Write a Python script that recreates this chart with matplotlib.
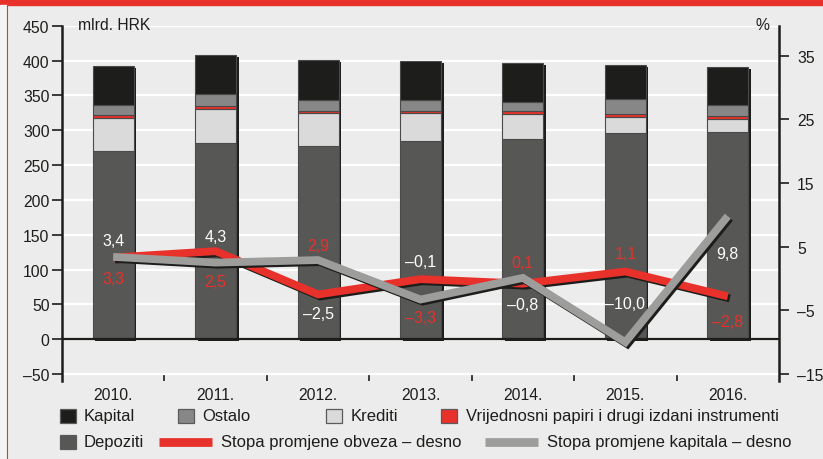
import matplotlib as mpl
mpl.use('agg')
import matplotlib.pyplot as plt
import matplotlib.patheffects as pe
from matplotlib.patches import Rectangle
from matplotlib.lines import Line2D
import numpy as np

# data (mlrd. HRK, stacked)
years = ['2010.', '2011.', '2012.', '2013.', '2014.', '2015.', '2016.']
depoziti = [270, 282, 278, 284, 287, 296, 297]
krediti = [48, 49, 46, 40, 36, 23, 19]
vrij_papiri = [4, 4, 4, 4, 4, 4, 4]
ostalo = [14, 17, 15, 15, 14, 22, 16]
kapital = [56, 56, 58, 56, 56, 49, 55]

# rates of change, % (right axis)
stopa_obveza = [3.3, 4.3, -2.5, -0.1, -0.8, 1.1, -2.8]
stopa_kapitala = [3.4, 2.5, 2.9, -3.3, 0.1, -10.0, 9.8]

# label colours as printed in the original
boja_obveza = ['red', 'white', 'white', 'white', 'white', 'red', 'red']
boja_kapitala = ['white', 'red', 'red', 'red', 'red', 'white', 'white']

RED = '#e8312a'
BG = '#ececec'
C_DEP = '#575756'
C_KRED = '#dadada'
C_OST = '#878787'
C_KAP = '#1d1d1b'
C_GRAY = '#9d9d9c'

FONT = ['Liberation Sans', 'DejaVu Sans']
plt.rcParams['font.family'] = FONT


def fmt(v):
    return f"{v:.1f}".replace('.', ',').replace('-', '\u2013')


W, H = 823, 460
fig = plt.figure(figsize=(W / 100, H / 100), dpi=100, facecolor=BG)

# frame decorations
fig.add_artist(Rectangle((0, 1 - 6 / H), 1, 6 / H, transform=fig.transFigure,
                         color=RED, zorder=0))
fig.add_artist(Rectangle((0, 0), 7 / W, 1 - 6 / H, transform=fig.transFigure,
                         color='#f3f3f3', zorder=0))
fig.add_artist(Line2D([7.5 / W, 7.5 / W], [0, 1 - 6 / H], transform=fig.transFigure,
                      color=RED, lw=0.8))

ax = fig.add_axes([62 / W, 1 - 382 / H, (779 - 62) / W, (382 - 26.7) / H])
ax.set_facecolor(BG)

x = np.arange(len(years))
w = 0.4
dep = np.array(depoziti)
kred = np.array(krediti)
vp = np.array(vrij_papiri)
ost = np.array(ostalo)
kap = np.array(kapital)
total = dep + kred + vp + ost + kap

# bar shadow
ax.bar(x + 0.025, total, bottom=-3, width=w, color=C_KAP, zorder=2)

ec = '#4a4a4a'
lw = 0.8
ax.bar(x, dep, width=w, color=C_DEP, edgecolor=ec, linewidth=lw, zorder=3)
ax.bar(x, kred, bottom=dep, width=w, color=C_KRED, edgecolor=ec, linewidth=lw, zorder=3)
ax.bar(x, vp, bottom=dep + kred, width=w, color=RED, edgecolor=ec, linewidth=lw, zorder=3)
ax.bar(x, ost, bottom=dep + kred + vp, width=w, color=C_OST, edgecolor=ec, linewidth=lw, zorder=3)
ax.bar(x, kap, bottom=dep + kred + vp + ost, width=w, color=C_KAP, edgecolor=ec, linewidth=lw, zorder=3)

ax.axhline(0, color='#1d1d1b', lw=1.6, zorder=4)

ax.set_xlim(-0.5, len(years) - 0.5)
ax.set_ylim(-60, 450)
lt = np.arange(-50, 451, 50)
ax.set_yticks(lt)
ax.set_yticklabels([str(v).replace('-', '\u2013') for v in lt])
ax.yaxis.grid(True, color='white', lw=1.6)
ax.set_axisbelow(True)
ax.set_xticks(x)
ax.set_xticklabels(years)
ax.set_xticks(np.arange(0.5, len(years) - 1, 1), minor=True)
ax.tick_params(axis='x', which='major', length=0, pad=4, labelsize=11.3, colors='#1d1d1b')
ax.tick_params(axis='x', which='minor', length=6, width=1.2, direction='in', color='#1d1d1b')
ax.tick_params(axis='y', length=7, width=1.2, labelsize=11.3, pad=2, colors='#1d1d1b')
for s in ['top', 'bottom', 'right']:
    ax.spines[s].set_visible(False)
ax.spines['left'].set_linewidth(1.8)
ax.spines['left'].set_color('#1d1d1b')

ax.text(78 / W, 1 - 26 / H, 'mlrd. HRK', transform=fig.transFigure, fontsize=11.3,
        va='center', ha='left', color='#1d1d1b')

# right axis
ax2 = ax.twinx()
k = 10 / 91.4  # right units per left unit
ax2.set_ylim(-15 - 10 * k, -15 + 500 * k)
rt = [-15, -5, 5, 15, 25, 35]
ax2.set_yticks(rt)
ax2.set_yticklabels([str(v).replace('-', '\u2013') for v in rt])
ax2.tick_params(axis='y', length=7, width=1.2, labelsize=11.3, pad=6, colors='#1d1d1b')
for s in ['top', 'bottom', 'left']:
    ax2.spines[s].set_visible(False)
ax2.spines['right'].set_linewidth(1.8)
ax2.spines['right'].set_color('#1d1d1b')
fig.text(762 / W, 1 - 26 / H, '%', fontsize=11.3, ha='center', va='center', color='#1d1d1b')

shadow = [pe.SimpleLineShadow(offset=(1.5, -1.5), shadow_color='#1d1d1b', alpha=1.0), pe.Normal()]
ax2.plot(x, stopa_obveza, color=RED, lw=5.6, solid_capstyle='butt', solid_joinstyle='miter',
         path_effects=shadow, zorder=5)
ax2.plot(x, stopa_kapitala, color=C_GRAY, lw=5.6, solid_capstyle='butt', solid_joinstyle='miter',
         path_effects=shadow, zorder=6)

# label offsets in pixels relative to the line points
off_obveza = [-21, 15, -19, 18, -21, 18, -25]
off_kapitala = [16, -19, 15, -18, 15, 39, -37]
cmap = {'red': RED, 'white': 'white'}
for i in range(len(years)):
    ax2.annotate(fmt(stopa_obveza[i]), (x[i], stopa_obveza[i]), xytext=(0, off_obveza[i]),
                 textcoords='offset pixels', ha='center', va='center', fontsize=11.5,
                 color=cmap[boja_obveza[i]], zorder=8)
    ax2.annotate(fmt(stopa_kapitala[i]), (x[i], stopa_kapitala[i]), xytext=(0, off_kapitala[i]),
                 textcoords='offset pixels', ha='center', va='center', fontsize=11.5,
                 color=cmap[boja_kapitala[i]], zorder=8)

# legend, drawn by hand to match the original layout
LEG_FS = 12.0


def leg_box(px, py, color, label, tx):
    fig.add_artist(Rectangle((px / W, 1 - (py + 7) / H), 16 / W, 14 / H,
                             transform=fig.transFigure, facecolor=color,
                             edgecolor='#5a5a5a', lw=0.9))
    fig.text(tx / W, 1 - py / H, label, fontsize=LEG_FS, va='center',
             ha='left', color='#1d1d1b')


def leg_line(px0, px1, py, color, label, tx):
    fig.add_artist(Line2D([px0 / W, px1 / W], [1 - py / H, 1 - py / H],
                          transform=fig.transFigure, color=color, lw=6.3,
                          solid_capstyle='butt'))
    fig.text(tx / W, 1 - py / H, label, fontsize=LEG_FS, va='center',
             ha='left', color='#1d1d1b')


leg_box(60, 417, C_KAP, 'Kapital', 84)
leg_box(178, 417, C_OST, 'Ostalo', 202)
leg_box(326, 417, C_KRED, 'Krediti', 351)
leg_box(441, 417, RED, 'Vrijednosni papiri i drugi izdani instrumenti', 466)
leg_box(60, 443, C_DEP, 'Depoziti', 84)
leg_line(159, 212, 443, RED, 'Stopa promjene obveza \u2013 desno', 221)
leg_line(485, 538, 443, C_GRAY, 'Stopa promjene kapitala \u2013 desno', 547)

fig.savefig('out.png', dpi=100, facecolor=BG)
